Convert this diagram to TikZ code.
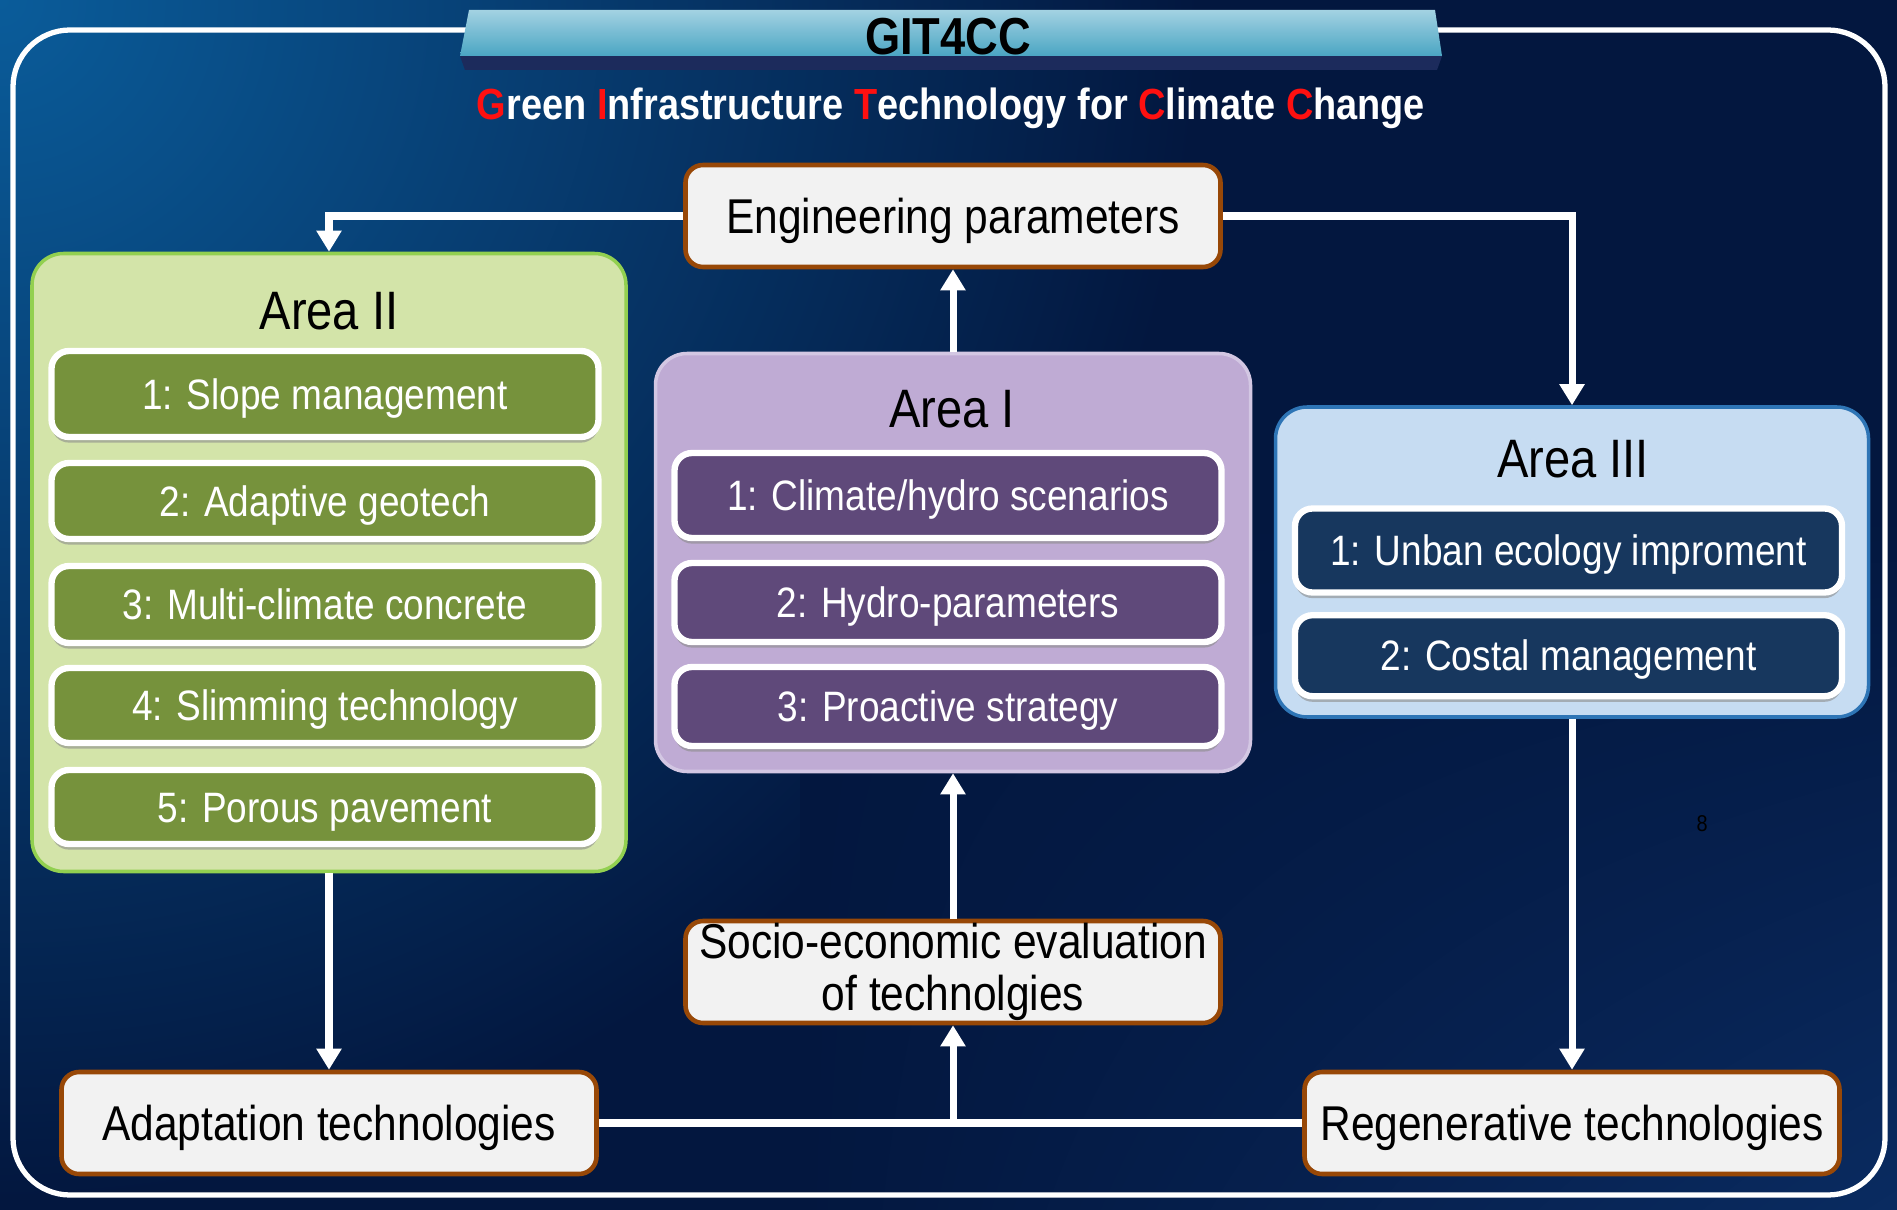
\documentclass[tikz,border=0pt]{standalone}
\usepackage{fontspec}
\setmainfont[FakeStretch=0.87]{Liberation Sans}
\usetikzlibrary{arrows.meta,shadows,shadings}

\definecolor{bgdark}{HTML}{03173F}
\definecolor{bglight}{HTML}{0A5C9A}
\definecolor{bglow}{HTML}{0A2C62}
\definecolor{boxfill}{HTML}{F2F2F2}
\definecolor{boxline}{HTML}{984807}
\definecolor{greenarea}{HTML}{D3E4A9}
\definecolor{greenline}{HTML}{92D050}
\definecolor{greenitem}{HTML}{76923C}
\definecolor{purplearea}{HTML}{BFABD4}
\definecolor{purpleline}{HTML}{D3C7E3}
\definecolor{purpleitem}{HTML}{5F497A}
\definecolor{bluearea}{HTML}{C6DCF2}
\definecolor{blueline}{HTML}{2E75B6}
\definecolor{blueitem}{HTML}{17375E}
\definecolor{bannertop}{HTML}{A3D2E2}
\definecolor{bannermid}{HTML}{4AA5C3}
\definecolor{bannerside}{HTML}{1C2B5C}
\definecolor{titlered}{HTML}{FF1010}

\tikzset{
  flow/.style={white, line width=2pt, -{Triangle[width=0.24cm,length=0.21cm]}},
  link/.style={white, line width=2pt},
  techbox/.style={draw=boxline, fill=boxfill, line width=1.3pt, rounded corners=5pt,
    minimum width=5.35cm, minimum height=1.02cm, font=\fontsize{13.9}{16.5}\selectfont},
  onecap/.style={text height=#1, text depth=0pt},
  area/.style={rounded corners=9pt, line width=1pt},
  areatitle/.style={font=\fontsize{15.4}{18}\selectfont, onecap=11pt},
  item/.style={draw=white, line width=1.8pt, rounded corners=5pt, minimum width=5.47cm,
    text=white, font=\fontsize{12.1}{14}\selectfont, onecap=8.7pt,
    drop shadow={shadow xshift=0pt, shadow yshift=-1.6pt, fill=black!45, opacity=0.6}},
}

\begin{document}
\begin{tikzpicture}
  \useasboundingbox (0,0) rectangle (18.97,12.09);
  % background, a little past the page edge
  \fill[bgdark] (-0.2,-0.2) rectangle (19.17,12.29);
  \shade[inner color=bglight, outer color=bgdark] (0,12.09) circle (12);
  \shade[upper left=bgdark, upper right=bgdark, lower left=bgdark, lower right=bglow] (8,-0.2) rectangle (19.17,7);
  \draw[white, line width=1.5pt, rounded corners=0.57cm] (0.13,0.14) rectangle (18.85,11.79);

  % title banner
  \fill[bannerside] (4.60,11.53) -- (14.42,11.53) -- (14.37,11.39) -- (4.65,11.39) -- cycle;
  \shade[top color=bannertop, bottom color=bannermid] (4.69,11.99) -- (14.35,11.99) -- (14.42,11.53) -- (4.60,11.53) -- cycle;
  \node[font=\bfseries\fontsize{14.8}{18}\selectfont, onecap=10.6pt] (banner) at (9.48,11.73) {GIT4CC};
  \node[text=white, font=\bfseries\fontsize{12.4}{15}\selectfont, onecap=8.9pt] (subtitle) at (9.51,11.05)
    {\textcolor{titlered}{G}reen \textcolor{titlered}{I}nfrastructure \textcolor{titlered}{T}echnology for \textcolor{titlered}{C}limate \textcolor{titlered}{C}hange};

  % outer boxes
  \node[techbox, onecap=9.95pt] (eng) at (9.53,9.93) {Engineering parameters};
  \node[techbox, align=center, inner ysep=0pt, font=\fontsize{13.9}{14.8}\selectfont] (socio) at (9.53,2.37) {Socio-economic evaluation\\of technolgies};
  \node[techbox, onecap=9.95pt] (adapt) at (3.29,0.86) {Adaptation technologies};
  \node[techbox, onecap=9.95pt] (regen) at (15.72,0.86) {Regenerative technologies};

  % Area II
  \node[area, draw=greenline, fill=greenarea, minimum width=5.94cm, minimum height=6.18cm] (a2) at (3.29,6.465) {};
  \node[areatitle] (a2title) at (3.29,8.99) {Area II};
  \node[item, fill=greenitem, minimum height=0.86cm] (a2i1) at (3.25,8.15) {1: Slope management};
  \node[item, fill=greenitem, minimum height=0.76cm] (a2i2) at (3.25,7.08) {2: Adaptive geotech};
  \node[item, fill=greenitem, minimum height=0.77cm] (a2i3) at (3.25,6.045) {3: Multi-climate concrete};
  \node[item, fill=greenitem, minimum height=0.75cm] (a2i4) at (3.25,5.035) {4: Slimming technology};
  \node[item, fill=greenitem, minimum height=0.74cm] (a2i5) at (3.25,4.02) {5: Porous pavement};

  % Area I
  \node[area, draw=purpleline, fill=purplearea, minimum width=5.95cm, minimum height=4.18cm] (a1) at (9.53,6.465) {};
  \node[areatitle] (a1title) at (9.52,8.01) {Area I};
  \node[item, fill=purpleitem, minimum height=0.85cm] (a1i1) at (9.48,7.135) {1: Climate/hydro scenarios};
  \node[item, fill=purpleitem, minimum height=0.79cm] (a1i2) at (9.48,6.065) {2: Hydro-parameters};
  \node[item, fill=purpleitem, minimum height=0.79cm] (a1i3) at (9.48,5.025) {3: Proactive strategy};

  % Area III
  \node[area, draw=blueline, fill=bluearea, minimum width=5.93cm, minimum height=3.10cm] (a3) at (15.72,6.47) {};
  \node[areatitle] (a3title) at (15.73,7.505) {Area III};
  \node[item, fill=blueitem, minimum height=0.84cm] (a3i1) at (15.685,6.585) {1: Unban ecology improment};
  \node[item, fill=blueitem, minimum height=0.81cm] (a3i2) at (15.685,5.533) {2: Costal management};

  \node[font=\fontsize{6.5}{8}\selectfont] (pagenum) at (17.02,3.85) {8};

  % connectors
  \draw[flow] (eng.west) -| (a2.north);
  \draw[flow] (eng.east) -| (a3.north);
  \draw[flow] (a1.north) -- (eng.south);
  \draw[flow] (a2.south) -- (adapt.north);
  \draw[flow] (a3.south) -- (regen.north);
  \draw[link] (adapt.east) -- (regen.west);
  \draw[flow] (socio.south |- adapt.east) -- (socio.south);
  \draw[flow] (socio.north) -- (a1.south);
\end{tikzpicture}
\end{document}
